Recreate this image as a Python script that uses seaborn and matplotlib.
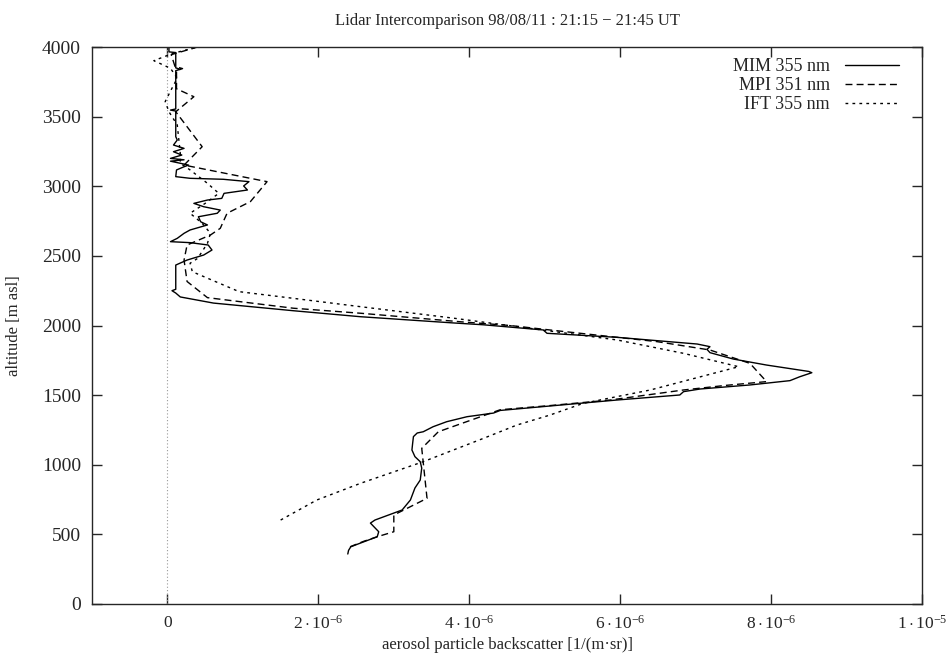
import numpy as np
import pandas as pd
import matplotlib
matplotlib.use("Agg")
import matplotlib.pyplot as plt
import seaborn as sns

# backscatter in units of 1e-6 1/(m sr), altitude in m asl
mim_beta = [2.39, 2.40, 2.43, 2.56, 2.78, 2.80, 2.69, 2.75, 3.00, 3.11, 3.22, 3.28, 3.35, 3.37,
            3.35, 3.28, 3.24, 3.25, 3.26, 3.31, 3.39, 3.52, 3.70, 3.97, 4.32, 4.41, 5.07, 5.96,
            6.79, 6.84, 7.06, 7.72, 8.25, 8.38, 8.54, 8.50, 7.94, 7.50, 7.19, 7.15, 7.19, 7.02,
            5.96, 5.03, 4.98, 4.19, 3.80, 2.56, 1.67, 0.61, 0.17, 0.11, 0.06, 0.11, 0.11, 0.26,
            0.48, 0.59, 0.54, 0.30, 0.04, 0.13, 0.22, 0.30, 0.53, 0.44, 0.41, 0.66, 0.70, 0.48,
            0.35, 0.53, 0.72, 0.75, 1.06, 1.01, 1.08, 0.74, 0.30, 0.11, 0.12, 0.22, 0.28, 0.17,
            0.04, 0.22, 0.04, 0.19, 0.08, 0.22, 0.08, 0.13, 0.11, 0.11, 0.04, 0.11, 0.11, 0.17,
            0.11, 0.11, 0.02, 0.02]
mim_alt = [359, 385, 411, 438, 483, 519, 581, 603, 653, 675, 747, 833, 890, 976,
           1022, 1058, 1106, 1156, 1202, 1228, 1237, 1273, 1309, 1345, 1371, 1390, 1422, 1465,
           1501, 1525, 1544, 1573, 1604, 1632, 1661, 1670, 1716, 1759, 1805, 1829, 1848, 1867,
           1915, 1944, 1968, 2005, 2018, 2063, 2106, 2161, 2205, 2233, 2250, 2260, 2434, 2470,
           2506, 2542, 2578, 2595, 2602, 2626, 2662, 2686, 2722, 2745, 2781, 2806, 2829, 2853,
           2877, 2901, 2913, 2949, 2973, 3002, 3033, 3050, 3057, 3069, 3117, 3140, 3152, 3165,
           3180, 3190, 3200, 3224, 3248, 3272, 3296, 3332, 3356, 3540, 3547, 3555, 3830, 3840,
           3850, 3960, 3965, 4000]

mpi_beta = [2.42, 2.60, 2.78, 3.00, 3.00, 3.44, 3.37, 3.59, 4.41, 5.07, 5.87, 6.84, 7.40, 7.94,
            7.72, 7.19, 6.49, 5.20, 4.54, 3.88, 2.56, 1.67, 0.53, 0.26, 0.22, 0.26, 0.57, 0.70,
            0.79, 1.10, 1.32, 0.22, 0.46, 0.11, 0.35, 0.12, 0.12, 0.20, 0.10, 0.05, 0.40]
mpi_alt = [411, 450, 483, 519, 639, 759, 1118, 1237, 1395, 1425, 1465, 1537, 1570, 1597,
           1728, 1824, 1884, 1960, 2000, 2027, 2088, 2124, 2200, 2316, 2470, 2578, 2650, 2698,
           2806, 2890, 3033, 3152, 3284, 3535, 3643, 3700, 3830, 3845, 3860, 3945, 4000]

ift_beta = [1.50, 1.98, 2.56, 3.39, 4.19, 4.63, 5.07, 5.51, 6.40, 7.57, 6.84, 5.96, 4.80, 3.80,
            2.56, 1.67, 0.95, 0.33, 0.30, 0.40, 0.53, 0.57, 0.46, 0.30, 0.50, 0.68, 0.53, 0.30,
            0.17, 0.17, 0.13, 0.02, -0.03, 0.06, 0.13, 0.04, -0.18, 0.07, 0.33, 0.45]
ift_alt = [603, 747, 867, 1022, 1190, 1285, 1357, 1441, 1537, 1704, 1800, 1896, 1980, 2052,
           2135, 2195, 2243, 2386, 2447, 2482, 2590, 2662, 2734, 2806, 2877, 2949, 3021, 3117,
           3165, 3236, 3440, 3535, 3608, 3704, 3776, 3847, 3902, 3954, 3990, 4000]

labels = ["MIM 355 nm", "MPI 351 nm", "IFT 355 nm"]
x_ticks = [0, 2e-6, 4e-6, 6e-6, 8e-6, 1e-5]
x_ticklabels = ["0", r"$2\cdot10^{-6}$", r"$4\cdot10^{-6}$", r"$6\cdot10^{-6}$",
                r"$8\cdot10^{-6}$", r"$1\cdot10^{-5}$"]
y_ticks = list(range(0, 4001, 500))

sns.set_style("ticks")
plt.rcParams["font.family"] = ["Liberation Serif", "DejaVu Serif"]
plt.rcParams["mathtext.fontset"] = "custom"
plt.rcParams["mathtext.rm"] = "Liberation Serif"
plt.rcParams["mathtext.it"] = "Liberation Serif:italic"

fig = plt.figure(figsize=(9.46, 6.61), dpi=100)
ax = fig.add_axes([92 / 946, 1 - 604 / 661, 830 / 946, 557 / 661])

ax.axvline(0, color="#999999", lw=0.8, ls=(0, (1, 2)))

series = [(mim_beta, mim_alt, "-"), (mpi_beta, mpi_alt, (0, (5, 3))),
          (ift_beta, ift_alt, (0, (2, 3)))]
for (b, a, ls), lab in zip(series, labels):
    df = pd.DataFrame({"beta": np.array(b) * 1e-6, "alt": a})
    sns.lineplot(data=df, x="beta", y="alt", sort=False, estimator=None, ax=ax,
                 color="black", lw=1.0, linestyle=ls, label=lab)

ax.set_xlim(-1e-6, 1e-5)
ax.set_ylim(0, 4000)
ax.set_xticks(x_ticks)
ax.set_xticklabels(x_ticklabels)
ax.set_yticks(y_ticks)
ax.tick_params(direction="in", length=7, width=1, top=True, right=True)
ax.tick_params(axis="x", pad=8, labelsize=12.5)
ax.tick_params(axis="y", pad=8, labelsize=14)
for s in ax.spines.values():
    s.set_linewidth(1.0)

ax.set_xlabel("aerosol particle backscatter [1/(m·sr)]", fontsize=12, labelpad=3)
ax.set_ylabel("altitude [m asl]", fontsize=12, labelpad=14)
ax.set_title("Lidar Intercomparison 98/08/11 : 21:15 − 21:45 UT", fontsize=12, pad=16)

leg = ax.legend(loc="upper right", frameon=False, markerfirst=False, fontsize=13,
                handlelength=3.0, labelspacing=0.12, borderaxespad=0.2,
                bbox_to_anchor=(0.985, 1.0))
for t in leg.get_texts():
    t.set_ha("right")

fig.savefig("out.png", dpi=100)
